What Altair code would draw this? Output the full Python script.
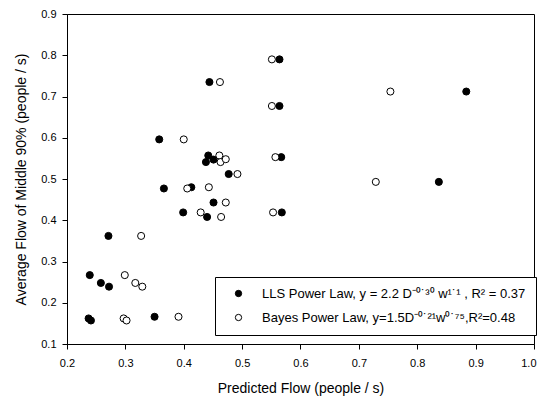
import altair as alt
import pandas as pd

lls_label = "LLS Power Law, y = 2.2 D⁻⁰˙³⁰ w¹˙¹ , R² = 0.37"
bayes_label = "Bayes Power Law, y=1.5D⁻⁰˙²¹w⁰˙⁷⁵,R²=0.48"

lls_x = [0.564, 0.444, 0.564, 0.358, 0.442, 0.438, 0.451, 0.567, 0.477, 0.366, 0.413,
         0.884, 0.837, 0.451, 0.399, 0.440, 0.568, 0.271, 0.239, 0.258, 0.272, 0.237,
         0.241, 0.350]
lls_y = [0.790, 0.735, 0.677, 0.596, 0.557, 0.541, 0.547, 0.553, 0.512, 0.477, 0.480,
         0.712, 0.493, 0.443, 0.419, 0.408, 0.419, 0.362, 0.267, 0.248, 0.239, 0.162,
         0.157, 0.166]
bayes_x = [0.551, 0.462, 0.551, 0.400, 0.461, 0.463, 0.472, 0.557, 0.492, 0.406, 0.443,
           0.754, 0.729, 0.472, 0.429, 0.464, 0.553, 0.327, 0.299, 0.317, 0.329, 0.297,
           0.302, 0.391]
bayes_y = [0.790, 0.735, 0.677, 0.596, 0.557, 0.541, 0.548, 0.553, 0.512, 0.477, 0.480,
           0.712, 0.493, 0.443, 0.419, 0.408, 0.419, 0.362, 0.267, 0.248, 0.239, 0.162,
           0.157, 0.166]

df = pd.concat([
    pd.DataFrame({"x": lls_x, "y": lls_y, "series": lls_label}),
    pd.DataFrame({"x": bayes_x, "y": bayes_y, "series": bayes_label}),
])

font = "Liberation Sans"
ticks = [round(0.1 * i, 1) for i in range(1, 11)]

chart = alt.Chart(df).mark_point(filled=True, size=50, stroke="black", strokeWidth=1, opacity=1).encode(
    x=alt.X("x:Q", title="Predicted Flow (people / s)",
            scale=alt.Scale(domain=[0.2, 1.0], nice=False, zero=False),
            axis=alt.Axis(values=[t for t in ticks if t >= 0.2], format=".1f", grid=False,
                          labelFlush=False, labelOverlap=False,
                          labelAlign={"condition": {"test": "datum.value >= 0.99", "value": "right"},
                                      "value": "center"},
                          labelOffset={"condition": {"test": "datum.value >= 0.99", "value": 2},
                                       "value": 0},
                          domainColor="black", tickColor="black", tickSize=5,
                          labelFont=font, labelFontSize=11, labelColor="black", labelPadding=8,
                          titleFont=font, titleFontSize=14, titleFontWeight="normal",
                          titleColor="black", titlePadding=13)),
    y=alt.Y("y:Q", title="Average Flow of Middle 90% (people / s)",
            scale=alt.Scale(domain=[0.1, 0.9], nice=False, zero=False),
            axis=alt.Axis(values=[t for t in ticks if t <= 0.9], format=".1f", grid=False,
                          labelFlush=False, labelOverlap=False,
                          domainColor="black", tickColor="black", tickSize=5,
                          labelFont=font, labelFontSize=11, labelColor="black", labelPadding=6,
                          titleFont=font, titleFontSize=14, titleFontWeight="normal",
                          titleColor="black", titlePadding=12)),
    fill=alt.Fill("series:N",
                  scale=alt.Scale(domain=[lls_label, bayes_label], range=["black", "white"]),
                  legend=alt.Legend(title=None, orient="none", legendX=148, legendY=263,
                                    strokeColor="black", fillColor="white", padding=10,
                                    symbolType="circle", symbolSize=40, symbolOffset=7,
                                    symbolStrokeColor="black", symbolStrokeWidth=1,
                                    labelFont=font, labelFontSize=13, labelColor="black",
                                    labelOffset=17, rowPadding=10, labelLimit=400,
                                    offset=0)),
).properties(
    width=467, height=330,
    autosize=alt.AutoSizeParams(type="none"),
    padding={"left": 59, "top": 6, "right": 3, "bottom": 52},
).configure_view(
    stroke="black", strokeWidth=1
)

chart.save("out.html", embed_options={"renderer": "svg", "actions": False})
